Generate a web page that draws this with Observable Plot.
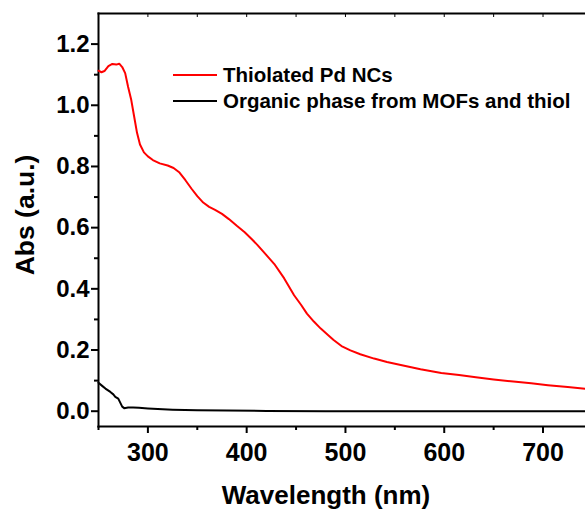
<!DOCTYPE html>
<html>
<head>
<meta charset="utf-8">
<script src="https://cdn.jsdelivr.net/npm/d3@7"></script>
<script src="https://cdn.jsdelivr.net/npm/@observablehq/plot@0.6"></script>
<style>
  body { margin: 0; background: #fff; }
  #wrap { position: relative; width: 585px; height: 510px; font-family: "Liberation Sans", Arial, sans-serif; }
  #legend { position: absolute; left: 173px; top: 62px; font-weight: bold; font-size: 20.5px; color: #000; }
  .row { display: flex; align-items: center; height: 26px; line-height: 26px; white-space: nowrap; }
  .sw { width: 44px; height: 2px; margin-right: 6px; }
</style>
</head>
<body>
<div id="wrap"></div>
<script>
const xTitle = "Wavelength (nm)";
const yTitle = "Abs (a.u.)";
const seriesNames = ["Thiolated Pd NCs", "Organic phase from MOFs and thiol"];
const seriesColors = ["#ff0000", "#000000"];

const xTicks = [300, 400, 500, 600, 700];
const xMinorTicks = [250, 350, 450, 550, 650];
const xTopTicks = [250, 300, 350, 400, 450, 500, 550, 600, 650, 700];
const yTicks = [0.0, 0.2, 0.4, 0.6, 0.8, 1.0, 1.2];
const yMinorTicks = [0.1, 0.3, 0.5, 0.7, 0.9, 1.1];

const wlRed = [250,253,256,260,264,268,271,274,277,280,283,286,289,292,296,300,305,312,320,326,332,338,344,350,356,362,368,375,382,390,398,405,411,420,428,438,448,455,461,468,475,482,488,496,505,515,529,542,556,576,597,615,632,650,670,688,705,725,743];
const absRed = [1.113,1.108,1.112,1.128,1.135,1.133,1.136,1.125,1.105,1.06,1.02,0.965,0.91,0.872,0.846,0.833,0.821,0.81,0.803,0.795,0.78,0.755,0.728,0.703,0.682,0.668,0.658,0.645,0.628,0.606,0.585,0.563,0.543,0.51,0.481,0.434,0.379,0.348,0.319,0.293,0.27,0.25,0.233,0.213,0.199,0.186,0.172,0.161,0.151,0.137,0.125,0.118,0.111,0.104,0.097,0.091,0.085,0.079,0.073];

const wlBlack = [250,254,257,262,265,267,270,272,274,276,280,285,291,300,310,325,350,380,420,480,550,620,700,743];
const absBlack = [0.093,0.082,0.074,0.063,0.055,0.047,0.041,0.028,0.015,0.010,0.012,0.012,0.011,0.009,0.007,0.005,0.003,0.002,0.001,0.0,0.0,0.0,0.0,0.0];

const red = wlRed.map((w, i) => ({w, a: absRed[i]}));
const black = wlBlack.map((w, i) => ({w, a: absBlack[i]}));

const bold = {fontWeight: "bold"};

const chart = Plot.plot({
  width: 585,
  height: 510,
  marginLeft: 98,
  marginRight: 0,
  marginTop: 13,
  marginBottom: 84,
  style: {fontFamily: "'Liberation Sans', Arial, sans-serif", background: "#fff", color: "#000", overflow: "visible"},
  x: {domain: [250, 743], axis: null, label: null},
  y: {domain: [-0.05, 1.3], axis: null, label: null},
  marks: [
    Plot.axisY({ticks: yTicks, tickSize: 7, tickPadding: 2, strokeWidth: 2, fontSize: 24, ...bold, tickFormat: d => d.toFixed(1), label: null}),
    Plot.axisY({ticks: yMinorTicks, tickSize: 4, strokeWidth: 2, tickFormat: () => "", label: null}),
    Plot.axisX({ticks: xTicks, tickSize: 7, tickPadding: 10, strokeWidth: 2, fontSize: 25, ...bold, tickFormat: d => String(d), label: null}),
    Plot.axisX({ticks: xMinorTicks, tickSize: 4, strokeWidth: 2, tickFormat: () => "", label: null}),
    Plot.axisX({anchor: "top", ticks: xTopTicks, tickSize: -3, strokeWidth: 1, tickFormat: () => "", label: null}),
    Plot.frame({anchor: "left", strokeWidth: 2}),
    Plot.frame({anchor: "bottom", strokeWidth: 2}),
    Plot.frame({anchor: "top", strokeWidth: 2}),
    Plot.line(black, {x: "w", y: "a", stroke: seriesColors[1], strokeWidth: 2}),
    Plot.line(red, {x: "w", y: "a", stroke: seriesColors[0], strokeWidth: 2}),
    Plot.text([xTitle], {frameAnchor: "bottom", textAnchor: "middle", lineAnchor: "bottom", dy: 77, dx: -16, fontSize: 26, ...bold, text: d => d}),
    Plot.text([yTitle], {frameAnchor: "left", textAnchor: "middle", lineAnchor: "bottom", rotate: -90, dx: -65, dy: -5, fontSize: 26.5, ...bold, text: d => d})
  ]
});

const wrap = document.getElementById("wrap");
wrap.appendChild(chart);

const legend = document.createElement("div");
legend.id = "legend";
seriesNames.forEach((name, i) => {
  const row = document.createElement("div");
  row.className = "row";
  const sw = document.createElement("span");
  sw.className = "sw";
  sw.style.background = seriesColors[i];
  const t = document.createElement("span");
  t.textContent = name;
  row.appendChild(sw);
  row.appendChild(t);
  legend.appendChild(row);
});
wrap.appendChild(legend);
</script>
</body>
</html>
